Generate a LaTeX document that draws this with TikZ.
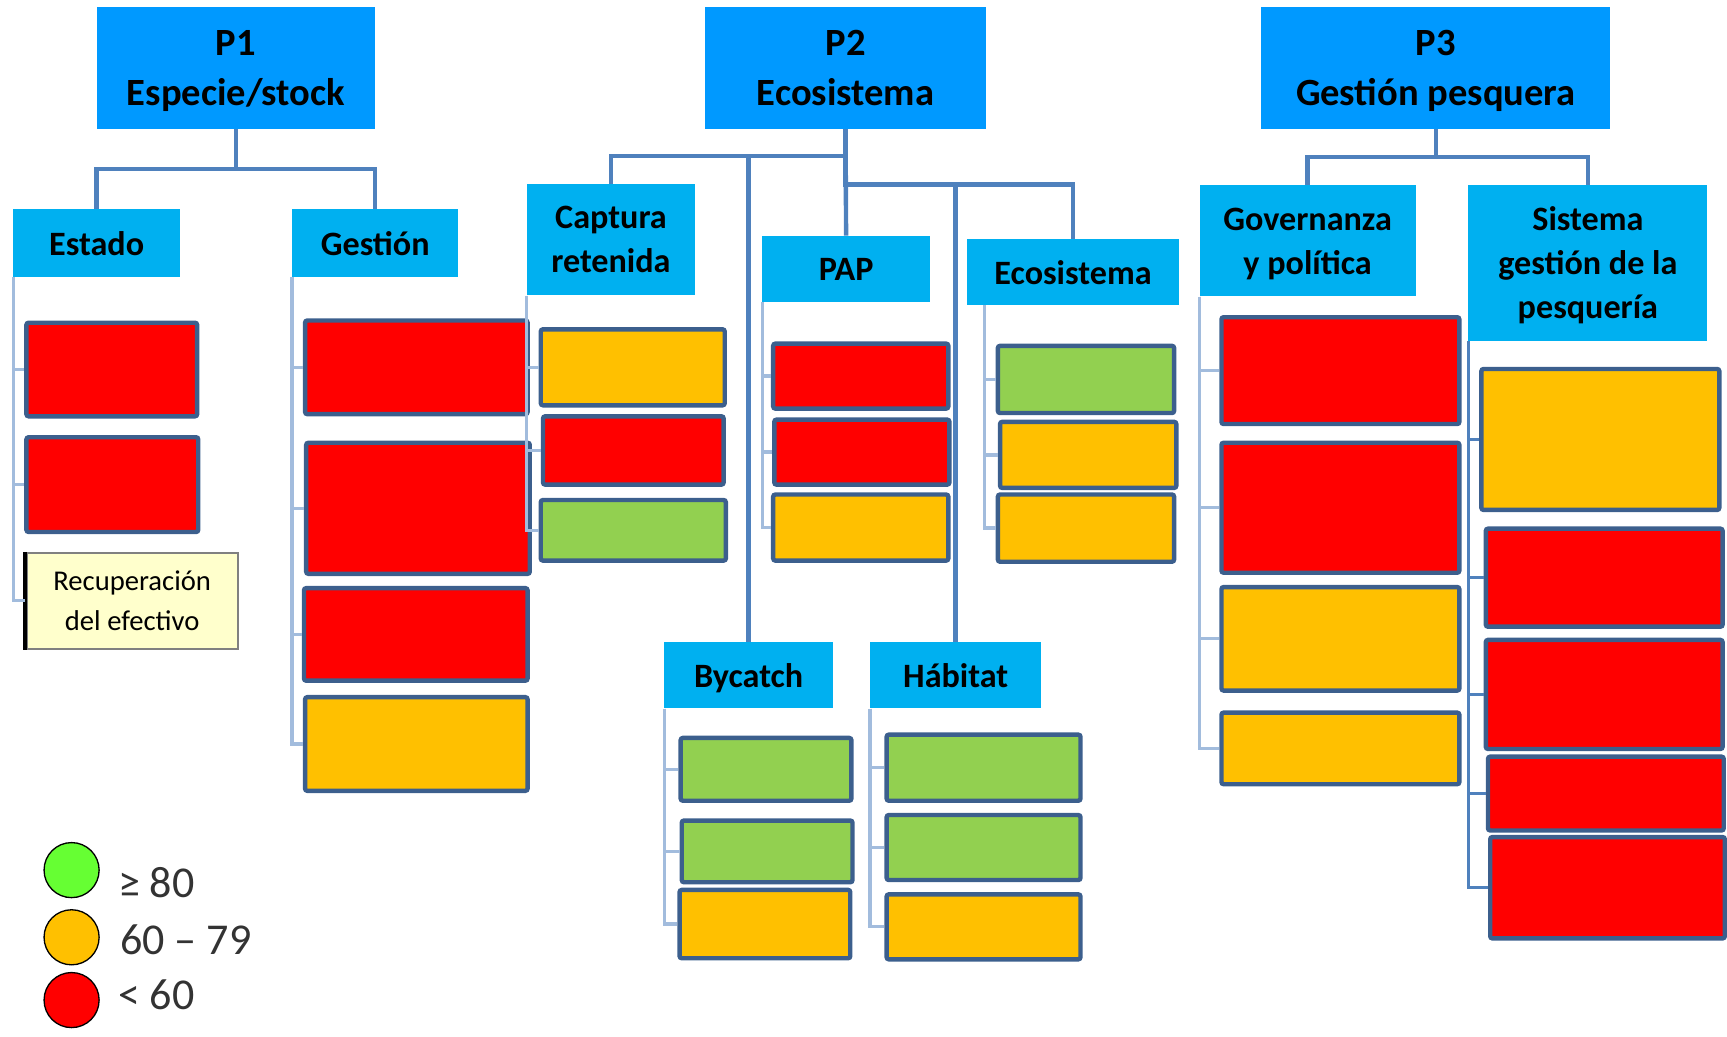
\documentclass[tikz,border=0pt]{standalone}
\usepackage{fontspec}
\setmainfont{Carlito}
\definecolor{azulP}{HTML}{0099FF}
\definecolor{azulC}{HTML}{00B0F0}
\definecolor{rojo}{HTML}{FF0000}
\definecolor{naranja}{HTML}{FFC000}
\definecolor{verde}{HTML}{92D050}
\definecolor{borde}{HTML}{3C5F8D}
\definecolor{linea}{HTML}{4F81BD}
\definecolor{lineaclara}{HTML}{A2BCDD}
\definecolor{nota}{HTML}{FFFFCC}
\definecolor{verdeley}{HTML}{66FF33}
\begin{document}
\begin{tikzpicture}[x=1pt,y=-1pt,
  pbox/.style={anchor=north west, fill=azulP, inner sep=0pt, align=center,
    text depth=0pt, font=\fontsize{35}{46}\selectfont\bfseries},
  sbox/.style={anchor=north west, fill=azulC, inner sep=0pt, align=center,
    text depth=0pt, font=\fontsize{31}{40}\selectfont\bfseries},
  cbox/.style={anchor=north west, draw=borde, line width=4pt,
    rounded corners=2pt, inner sep=0pt},
  conn/.style={draw=linea, line width=4pt},
  childline/.style={draw=lineaclara, line width=3pt},
  dot/.style={circle, draw=black, line width=1.2pt, minimum size=50pt, inner sep=0pt},
  leyenda/.style={anchor=west, inner sep=0pt, font=\fontsize{40}{40}\selectfont, text=black!80}]
  \useasboundingbox (0,0) rectangle (1568,941);

  % principios
  \node[pbox, minimum width=252pt, minimum height=111pt] (p1) at (88,6) {P1\\Especie/stock};
  \node[pbox, minimum width=255pt, minimum height=111pt] (p2) at (640,6) {P2\\Ecosistema};
  \node[pbox, minimum width=317pt, minimum height=111pt] (p3) at (1145,6) {P3\\Gestión pesquera};

  % componentes
  \node[sbox, minimum width=151pt, minimum height=61pt] (estado) at (12,190) {Estado};
  \node[sbox, minimum width=151pt, minimum height=61pt] (gestion) at (265,190) {Gestión};
  \node[sbox, minimum width=153pt, minimum height=101pt] (captura) at (478,167) {Captura\\retenida};
  \node[sbox, minimum width=152pt, minimum height=60pt] (pap) at (692,214) {PAP};
  \node[sbox, minimum width=192pt, minimum height=60pt] (ecosis) at (878,217) {Ecosistema};
  \node[sbox, minimum width=153pt, minimum height=60pt] (bycatch) at (603,583) {Bycatch};
  \node[sbox, minimum width=155pt, minimum height=60pt] (habitat) at (790,583) {Hábitat};
  \node[sbox, minimum width=196pt, minimum height=101pt] (gober) at (1089,168) {Governanza\\y política};
  \node[sbox, minimum width=217pt, minimum height=141pt] (sistema) at (1333,168) {Sistema\\gestión de la\\pesquería};

  % indicadores
  \node[cbox, fill=rojo, minimum width=155pt, minimum height=85pt] (e1) at (22,291) {};
  \node[cbox, fill=rojo, minimum width=156pt, minimum height=86pt] (e2) at (22,395) {};
  \node[anchor=north west, fill=nota, draw=black!50, line width=2pt, inner sep=0pt,
    minimum width=192pt, minimum height=87pt, align=center,
    font=\fontsize{26}{36.5}\selectfont] (rec) at (23,501) {Recuperación\\del efectivo};
  \draw[black, line width=3.5pt] (rec.north west) -- (rec.south west);

  \node[cbox, fill=rojo, minimum width=202pt, minimum height=85pt] (g1) at (275,289) {};
  \node[cbox, fill=rojo, minimum width=203pt, minimum height=119pt] (g2) at (276,400) {};
  \node[cbox, fill=rojo, minimum width=203pt, minimum height=84pt] (g3) at (274,532) {};
  \node[cbox, fill=naranja, minimum width=202pt, minimum height=85pt] (g4) at (275,631) {};

  \node[cbox, fill=naranja, minimum width=167pt, minimum height=69pt] (c1) at (489,297) {};
  \node[cbox, fill=rojo, minimum width=164pt, minimum height=62pt] (c2) at (491,376) {};
  \node[cbox, fill=verde, minimum width=168pt, minimum height=55pt] (c3) at (489,452) {};

  \node[cbox, fill=rojo, minimum width=159pt, minimum height=59pt] (a1) at (700,310) {};
  \node[cbox, fill=rojo, minimum width=159pt, minimum height=59pt] (a2) at (701,379) {};
  \node[cbox, fill=naranja, minimum width=159pt, minimum height=60pt] (a3) at (700,447) {};

  \node[cbox, fill=verde, minimum width=160pt, minimum height=61pt] (s1) at (904,312) {};
  \node[cbox, fill=naranja, minimum width=160pt, minimum height=60pt] (s2) at (906,381) {};
  \node[cbox, fill=naranja, minimum width=160pt, minimum height=61pt] (s3) at (904,447) {};

  \node[cbox, fill=verde, minimum width=155pt, minimum height=57pt] (b1) at (616,668) {};
  \node[cbox, fill=verde, minimum width=155pt, minimum height=56pt] (b2) at (617,743) {};
  \node[cbox, fill=naranja, minimum width=155pt, minimum height=62pt] (b3) at (615,806) {};

  \node[cbox, fill=verde, minimum width=176pt, minimum height=60pt] (h1) at (803,665) {};
  \node[cbox, fill=verde, minimum width=176pt, minimum height=59pt] (h2) at (803,738) {};
  \node[cbox, fill=naranja, minimum width=176pt, minimum height=59pt] (h3) at (803,810) {};

  \node[cbox, fill=rojo, minimum width=216pt, minimum height=97pt] (v1) at (1107,286) {};
  \node[cbox, fill=rojo, minimum width=216pt, minimum height=118pt] (v2) at (1107,400) {};
  \node[cbox, fill=naranja, minimum width=216pt, minimum height=94pt] (v3) at (1107,531) {};
  \node[cbox, fill=naranja, minimum width=216pt, minimum height=65pt] (v4) at (1107,645) {};

  \node[cbox, fill=naranja, minimum width=216pt, minimum height=128pt] (m1) at (1343,333) {};
  \node[cbox, fill=rojo, minimum width=215pt, minimum height=89pt] (m2) at (1347,478) {};
  \node[cbox, fill=rojo, minimum width=215pt, minimum height=99pt] (m3) at (1347,579) {};
  \node[cbox, fill=rojo, minimum width=214pt, minimum height=67pt] (m4) at (1349,685) {};
  \node[cbox, fill=rojo, minimum width=213pt, minimum height=92pt] (m5) at (1351,758) {};

  % conectores
  \draw[conn] (p1.south) -- ++(0,36) -| (estado.north);
  \draw[conn] (p1.south) -- ++(0,36) -| (gestion.north);
  \draw[conn] (p2.south) -- ++(0,24) -| (captura.north);
  \draw[conn] (p2.south) -- ++(0,24) -| (bycatch.north);
  \draw[conn] (p2.south) -- (pap.north);
  \draw[conn] (p2.south) -- ++(0,50) -| (ecosis.north);
  \draw[conn] (p2.south) -- ++(0,50) -| (habitat.north);
  \draw[conn] (p3.south) -- ++(0,25) -| (gober.north);
  \draw[conn] (p3.south) -- ++(0,25) -| (sistema.north);

  \coordinate (ecosisL) at (894,277);
  \foreach \h in {e1,e2,rec} \draw[childline] (estado.south west) |- (\h.west);
  \foreach \h in {g1,g2,g3,g4} \draw[childline] (gestion.south west) |- (\h.west);
  \foreach \h in {c1,c2,c3} \draw[childline] (captura.south west) |- (\h.west);
  \foreach \h in {a1,a2,a3} \draw[childline] (pap.south west) |- (\h.west);
  \foreach \h in {s1,s2,s3} \draw[childline] (ecosisL) |- (\h.west);
  \foreach \h in {b1,b2,b3} \draw[childline] (bycatch.south west) |- (\h.west);
  \foreach \h in {h1,h2,h3} \draw[childline] (habitat.south west) |- (\h.west);
  \foreach \h in {v1,v2,v3,v4} \draw[childline] (gober.south west) |- (\h.west);
  \foreach \h in {m1,m2,m3,m4,m5} \draw[childline, draw=linea] (sistema.south west) |- (\h.west);

  % leyenda
  \node[dot, fill=verdeley] (l1) at (65,790) {};
  \node[dot, fill=naranja] (l2) at (65,851) {};
  \node[dot, fill=rojo] (l3) at (65,908) {};
  \node[leyenda] (t1) at (107,801) {≥ 80};
  \node[leyenda] (t2) at (109,853) {60 – 79};
  \node[leyenda] (t3) at (107,903) {< 60};
\end{tikzpicture}
\end{document}
